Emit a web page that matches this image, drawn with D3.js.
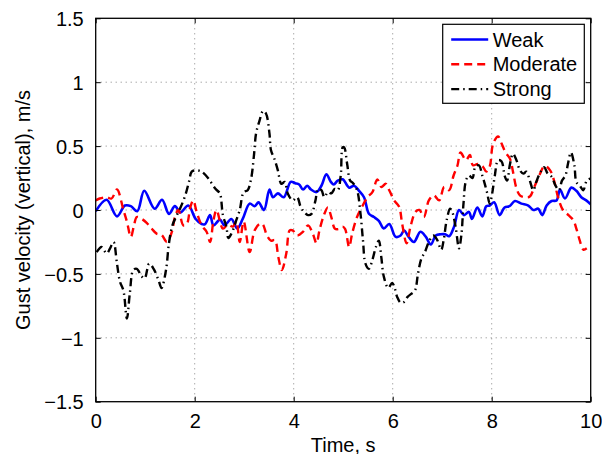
<!DOCTYPE html>
<html>
<head>
<meta charset="utf-8">
<script src="https://cdn.jsdelivr.net/npm/d3@7"></script>
<style>
  html, body { margin: 0; padding: 0; background: #fff; }
  svg { display: block; }
  text { font-family: "Liberation Sans", Arial, Helvetica, sans-serif; fill: #000; }
</style>
</head>
<body>
<svg id="chart" width="602" height="454"></svg>
<script>
// Gust velocity time histories for three turbulence levels
const weakT = [0, 0.22, 0.43, 0.59, 0.71, 0.84, 0.98, 1.19, 1.34, 1.48, 1.60, 1.71, 1.87, 2.02, 2.14, 2.21, 2.31, 2.38, 2.51, 2.60, 2.74, 2.86, 2.97, 3.11, 3.21, 3.29, 3.40, 3.51, 3.58, 3.68, 3.80, 3.94, 4.03, 4.11, 4.19, 4.27, 4.35, 4.46, 4.56, 4.66, 4.75, 4.81, 4.89, 4.99, 5.12, 5.22, 5.32, 5.42, 5.52, 5.62, 5.72, 5.82, 5.93, 6.06, 6.16, 6.23, 6.33, 6.43, 6.56, 6.67, 6.77, 6.87, 6.97, 7.06, 7.14, 7.24, 7.34, 7.44, 7.54, 7.60, 7.71, 7.81, 7.89, 7.96, 8.05, 8.16, 8.26, 8.36, 8.47, 8.60, 8.74, 8.84, 8.94, 9.02, 9.11, 9.21, 9.31, 9.38, 9.48, 9.61, 9.71, 9.81, 9.91, 10.0];
const weakV = [-0.01, 0.08, -0.05, 0.035, 0.03, -0.01, 0.15, 0.01, 0.08, -0.03, 0.03, -0.02, 0.035, -0.07, -0.11, -0.11, -0.04, -0.12, -0.075, -0.12, -0.07, -0.145, -0.07, 0.05, 0.03, 0.06, 0.0, 0.16, 0.10, 0.13, 0.10, 0.22, 0.21, 0.20, 0.16, 0.19, 0.16, 0.14, 0.19, 0.28, 0.22, 0.20, 0.23, 0.24, 0.175, 0.19, 0.15, 0.10, -0.03, -0.055, -0.085, -0.145, -0.11, -0.21, -0.20, -0.16, -0.215, -0.25, -0.17, -0.21, -0.27, -0.20, -0.19, -0.19, -0.205, -0.13, 0.0, -0.04, -0.015, -0.07, 0.02, -0.05, 0.03, 0.035, 0.06, -0.04, 0.02, 0.03, 0.07, 0.05, 0.035, 0.0, 0.01, -0.04, 0.035, 0.07, 0.075, 0.16, 0.09, 0.175, 0.15, 0.10, 0.075, 0.045];

const moderateT = [0, 0.08, 0.22, 0.32, 0.43, 0.56, 0.63, 0.71, 0.78, 0.83, 0.93, 1.03, 1.13, 1.23, 1.33, 1.44, 1.54, 1.60, 1.67, 1.77, 1.84, 1.91, 1.97, 2.04, 2.14, 2.24, 2.31, 2.38, 2.44, 2.57, 2.67, 2.77, 2.84, 2.91, 2.99, 3.11, 3.21, 3.31, 3.37, 3.46, 3.54, 3.62, 3.69, 3.76, 3.85, 3.92, 3.98, 4.07, 4.19, 4.29, 4.39, 4.46, 4.52, 4.61, 4.69, 4.76, 4.83, 4.90, 4.99, 5.04, 5.12, 5.18, 5.28, 5.38, 5.49, 5.59, 5.69, 5.77, 5.86, 5.93, 6.03, 6.13, 6.19, 6.28, 6.36, 6.46, 6.54, 6.63, 6.73, 6.83, 6.94, 7.04, 7.14, 7.23, 7.31, 7.37, 7.48, 7.56, 7.62, 7.72, 7.82, 7.89, 7.96, 8.03, 8.13, 8.20, 8.28, 8.37, 8.43, 8.50, 8.57, 8.67, 8.77, 8.86, 8.95, 9.07, 9.18, 9.26, 9.34, 9.44, 9.55, 9.65, 9.71, 9.78, 9.85, 9.92];
const moderateV = [0.075, 0.09, 0.10, 0.09, 0.16, 0.0, -0.09, -0.21, -0.11, -0.055, -0.07, -0.10, -0.145, -0.185, -0.195, -0.25, -0.17, -0.055, 0.0, -0.12, -0.11, 0.02, 0.075, -0.015, -0.12, -0.17, -0.25, -0.08, 0.0, -0.145, -0.115, -0.13, -0.09, -0.25, -0.09, -0.33, -0.16, -0.11, -0.11, -0.20, -0.24, -0.235, -0.37, -0.47, -0.34, -0.16, -0.16, -0.20, -0.17, -0.12, -0.19, -0.26, -0.16, -0.04, 0.02, -0.055, -0.145, -0.15, -0.13, -0.15, -0.29, -0.185, -0.055, 0.025, 0.10, 0.14, 0.24, 0.18, 0.205, 0.155, 0.075, 0.025, -0.105, -0.26, -0.13, -0.015, 0.0, -0.055, 0.075, 0.115, 0.075, 0.18, 0.155, 0.27, 0.35, 0.45, 0.39, 0.43, 0.35, 0.36, 0.34, 0.30, 0.34, 0.52, 0.575, 0.52, 0.45, 0.40, 0.30, 0.17, 0.115, 0.10, 0.105, 0.18, 0.26, 0.345, 0.31, 0.23, 0.10, 0.0, -0.04, -0.08, -0.145, -0.24, -0.31, -0.30];

const strongT = [0.02, 0.12, 0.22, 0.29, 0.36, 0.43, 0.49, 0.56, 0.63, 0.69, 0.76, 0.83, 0.93, 0.99, 1.08, 1.17, 1.27, 1.33, 1.42, 1.48, 1.55, 1.64, 1.72, 1.81, 1.89, 1.94, 2.04, 2.14, 2.28, 2.41, 2.51, 2.53, 2.57, 2.64, 2.68, 2.77, 2.84, 2.91, 2.99, 3.07, 3.14, 3.20, 3.24, 3.31, 3.38, 3.44, 3.51, 3.54, 3.61, 3.68, 3.75, 3.82, 3.88, 3.98, 4.07, 4.14, 4.21, 4.29, 4.36, 4.44, 4.49, 4.56, 4.62, 4.69, 4.76, 4.83, 4.89, 4.95, 4.99, 5.02, 5.08, 5.14, 5.20, 5.28, 5.35, 5.40, 5.45, 5.52, 5.59, 5.66, 5.72, 5.77, 5.82, 5.91, 5.99, 6.04, 6.09, 6.16, 6.23, 6.30, 6.38, 6.45, 6.51, 6.58, 6.65, 6.73, 6.82, 6.90, 6.98, 7.03, 7.09, 7.16, 7.20, 7.27, 7.34, 7.39, 7.43, 7.48, 7.54, 7.61, 7.67, 7.74, 7.81, 7.86, 7.91, 7.96, 8.01, 8.06, 8.13, 8.20, 8.26, 8.31, 8.37, 8.43, 8.50, 8.57, 8.64, 8.70, 8.77, 8.84, 8.90, 8.99, 9.06, 9.13, 9.21, 9.29, 9.36, 9.42, 9.49, 9.54, 9.60, 9.67, 9.71, 9.78, 9.85, 9.92, 9.99];
const strongV = [-0.33, -0.29, -0.34, -0.30, -0.25, -0.42, -0.56, -0.63, -0.85, -0.65, -0.47, -0.46, -0.52, -0.535, -0.42, -0.46, -0.55, -0.61, -0.47, -0.26, -0.12, -0.04, 0.025, 0.115, 0.23, 0.30, 0.31, 0.30, 0.245, 0.17, 0.13, 0.10, -0.04, -0.13, -0.22, -0.16, -0.08, 0.0, 0.14, 0.155, 0.245, 0.44, 0.60, 0.70, 0.775, 0.755, 0.60, 0.47, 0.40, 0.31, 0.205, 0.22, 0.13, 0.075, 0.10, 0.025, -0.015, -0.04, -0.03, 0.075, 0.165, 0.155, 0.10, 0.14, 0.13, 0.165, 0.155, 0.27, 0.49, 0.49, 0.36, 0.23, 0.21, 0.155, -0.03, -0.24, -0.42, -0.46, -0.39, -0.29, -0.24, -0.37, -0.52, -0.61, -0.57, -0.61, -0.68, -0.725, -0.72, -0.68, -0.655, -0.63, -0.50, -0.38, -0.33, -0.25, -0.20, -0.235, -0.31, -0.235, -0.08, 0.01, -0.01, -0.13, -0.30, -0.185, 0.05, 0.23, 0.27, 0.25, 0.34, 0.35, 0.27, 0.205, 0.13, 0.05, 0.13, 0.26, 0.39, 0.38, 0.27, 0.23, 0.36, 0.44, 0.39, 0.31, 0.285, 0.30, 0.23, 0.155, 0.22, 0.30, 0.335, 0.285, 0.26, 0.19, 0.155, 0.23, 0.27, 0.36, 0.45, 0.35, 0.22, 0.19, 0.155, 0.23, 0.245];

const seriesNames = ["Weak", "Moderate", "Strong"];
const xTicks = [0, 2, 4, 6, 8, 10];
const yTicks = [-1.5, -1, -0.5, 0, 0.5, 1, 1.5];
const xLabel = "Time, s";
const yLabel = "Gust velocity (vertical), m/s";

const series = [
  { name: seriesNames[0], t: weakT, v: weakV, color: "#0000ff", dash: null },
  { name: seriesNames[1], t: moderateT, v: moderateV, color: "#ff0000", dash: "8,5" },
  { name: seriesNames[2], t: strongT, v: strongV, color: "#000000", dash: "8,4,1.5,4" }
];

const FS = 20;
const margin = { left: 95.7, right: 602 - 590.7, top: 18.3, bottom: 454 - 401.7 };
const W = 602, H = 454;
const iw = W - margin.left - margin.right;
const ih = H - margin.top - margin.bottom;

const svg = d3.select("#chart");
const g = svg.append("g").attr("transform", `translate(${margin.left},${margin.top})`);

const x = d3.scaleLinear().domain([0, 10]).range([0, iw]);
const y = d3.scaleLinear().domain([-1.5, 1.5]).range([ih, 0]);

const fmt = d => (d < 0 ? "\u2212" + Math.abs(d) : String(d));

// dotted grid
const grid = g.append("g").attr("class", "grid");
grid.selectAll("line.gx").data(xTicks.slice(1, -1)).join("line")
  .attr("x1", d => x(d)).attr("x2", d => x(d)).attr("y1", 0).attr("y2", ih)
  .attr("stroke", "#666").attr("stroke-width", 0.8).attr("stroke-dasharray", "1,4");
grid.selectAll("line.gy").data(yTicks.slice(1, -1)).join("line")
  .attr("y1", d => y(d)).attr("y2", d => y(d)).attr("x1", 0).attr("x2", iw)
  .attr("stroke", "#666").attr("stroke-width", 0.8).attr("stroke-dasharray", "1,4");

// data lines
g.append("clipPath").attr("id", "clip").append("rect").attr("width", iw).attr("height", ih);
const line = d3.line().x(d => x(d[0])).y(d => y(d[1])).curve(d3.curveCatmullRom.alpha(0.5));
const lines = g.append("g").attr("clip-path", "url(#clip)");
series.forEach(s => {
  const pts = s.t.map((t, i) => [t, s.v[i]]);
  lines.append("path").datum(pts)
    .attr("d", line)
    .attr("fill", "none")
    .attr("stroke", s.color)
    .attr("stroke-width", s.dash ? 2.4 : 2.6)
    .attr("stroke-linejoin", "round")
    .attr("stroke-dasharray", s.dash);
});

// axes with inward ticks on all four sides
const axB = g.append("g").attr("transform", `translate(0,${ih})`)
  .call(d3.axisBottom(x).tickValues(xTicks).tickSizeInner(-5).tickSizeOuter(0).tickPadding(11).tickFormat(fmt));
const axT = g.append("g")
  .call(d3.axisTop(x).tickValues(xTicks).tickSizeInner(-5).tickSizeOuter(0).tickFormat(""));
const axL = g.append("g")
  .call(d3.axisLeft(y).tickValues(yTicks).tickSizeInner(-5).tickSizeOuter(0).tickPadding(12).tickFormat(fmt));
const axR = g.append("g").attr("transform", `translate(${iw},0)`)
  .call(d3.axisRight(y).tickValues(yTicks).tickSizeInner(-5).tickSizeOuter(0).tickFormat(""));
[axB, axT, axL, axR].forEach(a => {
  a.select(".domain").remove();
  a.selectAll(".tick line").attr("stroke", "#000").attr("stroke-width", 1);
  a.selectAll("text").attr("font-size", FS).attr("font-family", "Liberation Sans, Arial, sans-serif").attr("fill", "#000");
});
axB.selectAll("text").attr("dy", "0.75em");
axL.selectAll("text").attr("dy", "0.36em");

// axes box
g.append("rect").attr("width", iw).attr("height", ih)
  .attr("fill", "none").attr("stroke", "#000").attr("stroke-width", 1.3);

// axis titles
svg.append("text").attr("x", margin.left + iw / 2).attr("y", 451.5)
  .attr("text-anchor", "middle").attr("font-size", FS).text(xLabel);
svg.append("text").attr("transform", "translate(30,210) rotate(-90)")
  .attr("text-anchor", "middle").attr("font-size", FS).text(yLabel);

// legend
const leg = svg.append("g").attr("transform", "translate(442.7,24.3)");
leg.append("rect").attr("width", 141.6).attr("height", 79)
  .attr("fill", "#fff").attr("stroke", "#000").attr("stroke-width", 1.2);
series.forEach((s, i) => {
  const cy = 15.2 + i * 24.8;
  leg.append("line").attr("x1", 8.5).attr("x2", 45.5).attr("y1", cy).attr("y2", cy)
    .attr("stroke", s.color).attr("stroke-width", s.dash ? 2.4 : 2.6).attr("stroke-dasharray", s.dash);
  leg.append("text").attr("x", 50).attr("y", cy).attr("dy", "0.36em")
    .attr("font-size", FS).text(s.name);
});
</script>
</body>
</html>
